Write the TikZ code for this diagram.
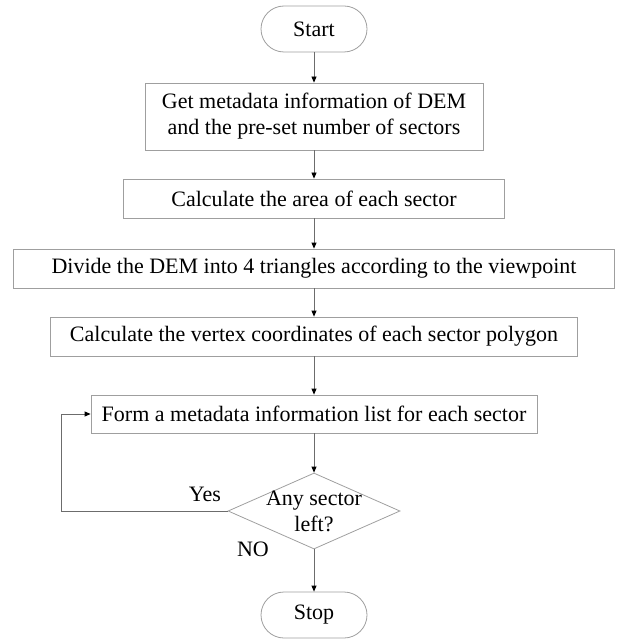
\documentclass[tikz,border=0pt]{standalone}
\usepackage{fontspec}
\setmainfont{Liberation Serif}
\usetikzlibrary{shapes.geometric,arrows.meta}
\begin{document}
\begin{tikzpicture}[x=1pt,y=-1pt,
  every node/.style={font=\fontsize{22}{26}\selectfont, inner sep=0pt},
  procbox/.style={draw=gray!75, line width=0.8pt, rectangle, align=center},
  term/.style={draw=gray!75, line width=0.8pt, rectangle, rounded corners=23pt, minimum width=106pt, minimum height=46pt},
  flow/.style={draw=gray!85!black, line width=0.8pt, -{Triangle[length=6pt,width=5pt,color=black]}}
]
\useasboundingbox (0,0) rectangle (617,639);
\node[term] (start) at (314,29) {Start};
\node[procbox, minimum width=338pt, minimum height=67pt] (b1) at (314,116.5) {Get metadata information of DEM\\and the pre-set number of sectors};
\node[procbox, minimum width=381pt, minimum height=39pt] (b2) at (314,198.5) {Calculate the area of each sector};
\node[procbox, minimum width=601pt, minimum height=39pt] (b3) at (314,268.5) {Divide the DEM into 4 triangles according to the viewpoint};
\node[procbox, minimum width=527pt, minimum height=39pt] (b4) at (314,336.5) {Calculate the vertex coordinates of each sector polygon};
\node[procbox, minimum width=446pt, minimum height=38pt] (b5) at (314,414) {Form a metadata information list for each sector};
\node[draw=gray!75, line width=0.8pt, diamond, minimum width=172pt, minimum height=76pt] (dec) at (314,511) {};
\node[align=center] (dectext) at (314,511) {Any sector\\left?};
\node[term] (stop) at (314,615) {Stop};
\node (yes) at (205,494) {Yes};
\node (no) at (253,549) {NO};
\coordinate (loopc) at (61,511);
\draw[flow] (start) -- (b1);
\draw[flow] (b1) -- (b2);
\draw[flow] (b2) -- (b3);
\draw[flow] (b3) -- (b4);
\draw[flow] (b4) -- (b5);
\draw[flow] (b5) -- (dec);
\draw[flow] (dec) -- (stop);
\draw[flow] (dec.west) -- (loopc) |- (b5.west);
\end{tikzpicture}
\end{document}
